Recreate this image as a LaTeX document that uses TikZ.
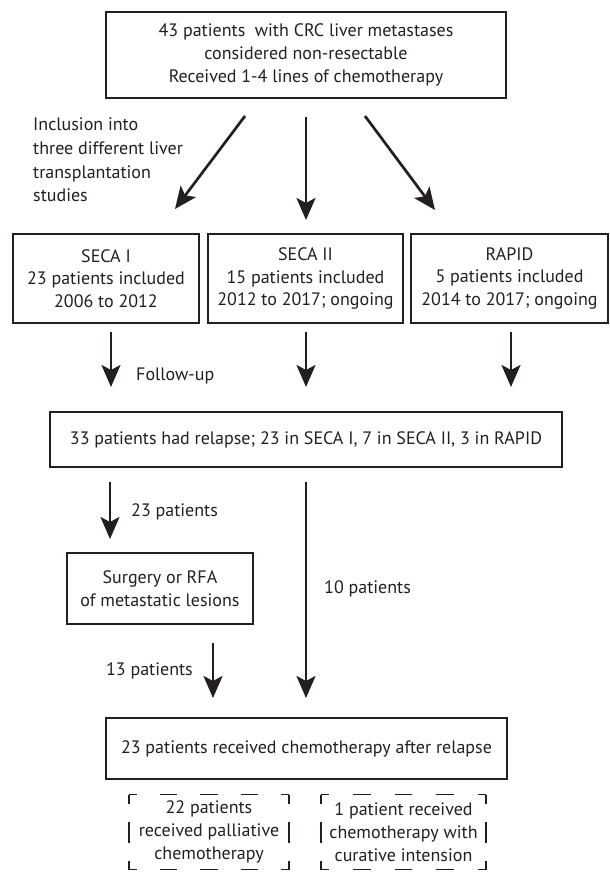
\documentclass[tikz,border=0pt]{standalone}
\usepackage{fontspec}
\setmainfont{PT Sans}
\usetikzlibrary{arrows.meta}
\definecolor{ink}{HTML}{231F20}
\tikzset{
  txt/.style={font=\fontsize{18}{22.8}\selectfont, text=ink, align=center, inner sep=0pt},
  box/.style={txt, draw=ink, line width=1.3pt, outer sep=0pt},
  plain/.style={txt, outer sep=0pt},
  arr/.style={draw=ink, line width=2.7pt, -{Stealth[length=22pt,width=19pt,inset=5pt]}},
  hdashA/.style={draw=ink, line width=1.5pt, dash pattern=on 8pt off 22.875pt on 17.5pt off 22.875pt on 17.5pt off 22.875pt on 17.5pt off 22.875pt on 8pt},
  hdashB/.style={draw=ink, line width=1.5pt, dash pattern=on 8pt off 24.125pt on 17.5pt off 24.125pt on 17.5pt off 24.125pt on 17.5pt off 24.125pt on 8pt},
  vdash/.style={draw=ink, line width=1.5pt, dash pattern=on 9pt off 18pt on 21pt off 18pt on 9pt}
}
\begin{document}
\begin{tikzpicture}[x=1pt,y=-1pt]
\useasboundingbox (0,0) rectangle (610,873);
% boxes
\node[box, minimum width=400pt, minimum height=86pt] (top) at (306,55)
  {43 patients\ \ with CRC liver metastases\\considered non-resectable\\Received 1-4 lines of chemotherapy};
\node[txt, align=left, anchor=north west, font=\fontsize{18}{23.6}\selectfont] (incl) at (33,118)
  {Inclusion into\\three different liver\\transplantation\\studies};
\node[box, minimum width=186pt, minimum height=89pt] (seca1) at (106,278.5)
  {SECA I\\23 patients included\\2006 to 2012};
\node[box, minimum width=195pt, minimum height=89pt] (seca2) at (305.5,278.5)
  {SECA II\\15 patients included\\2012 to 2017; ongoing};
\node[box, minimum width=197pt, minimum height=89pt] (rapid) at (509.5,278.5)
  {RAPID\\5 patients included\\2014 to 2017; ongoing};
\node[txt, anchor=west] (fu) at (136,376) {Follow-up};
\node[box, minimum width=512pt, minimum height=55pt] (relapse) at (306,439.5)
  {33 patients had relapse; 23 in SECA I, 7 in SECA II, 3 in RAPID};
\node[txt, anchor=west] (p23) at (131,512) {23 patients};
\node[box, minimum width=186pt, minimum height=71pt] (surg) at (160,588.5)
  {Surgery or RFA\\of metastatic lesions};
\node[txt, anchor=west] (p10) at (324,589) {10 patients};
\node[txt, anchor=east] (p13) at (193,671) {13 patients};
\node[box, minimum width=401pt, minimum height=61pt] (chemo) at (306.5,748.5)
  {23 patients received chemotherapy after relapse};
\node[plain, minimum width=160pt, minimum height=75pt] (pall) at (209,832)
  {22 patients\\received palliative\\chemotherapy};
\node[plain, minimum width=165pt, minimum height=75pt] (cur) at (403.5,832)
  {1 patient received\\chemotherapy with\\curative intension};
% dashed borders
\draw[hdashA] (pall.north west) -- (pall.north east);
\draw[hdashA] (pall.south west) -- (pall.south east);
\draw[vdash] (pall.north west) -- (pall.south west);
\draw[vdash] (pall.north east) -- (pall.south east);
\draw[hdashB] (cur.north west) -- (cur.north east);
\draw[hdashB] (cur.south west) -- (cur.south east);
\draw[vdash] (cur.north west) -- (cur.south west);
\draw[vdash] (cur.north east) -- (cur.south east);
% arrow coordinates
\coordinate (a1s) at (245,116); \coordinate (a1e) at (175,209);
\coordinate (a2s) at (306,117); \coordinate (a2e) at (306,220);
\coordinate (a3s) at (365,116); \coordinate (a3e) at (435,210);
\coordinate (b1s) at (111,332); \coordinate (b1e) at (111,387);
\coordinate (b2s) at (306,332); \coordinate (b2e) at (306,387);
\coordinate (b3s) at (511,332); \coordinate (b3e) at (511,387);
\coordinate (c1s) at (110,482); \coordinate (c1e) at (110,539);
\coordinate (c2s) at (306,482); \coordinate (c2e) at (306,698);
\coordinate (d1s) at (213,643); \coordinate (d1e) at (213,698);
\draw[arr] (a1s) -- (a1e);
\draw[arr] (a2s) -- (a2e);
\draw[arr] (a3s) -- (a3e);
\draw[arr] (b1s) -- (b1e);
\draw[arr] (b2s) -- (b2e);
\draw[arr] (b3s) -- (b3e);
\draw[arr] (c1s) -- (c1e);
\draw[arr] (c2s) -- (c2e);
\draw[arr] (d1s) -- (d1e);
\end{tikzpicture}
\end{document}
